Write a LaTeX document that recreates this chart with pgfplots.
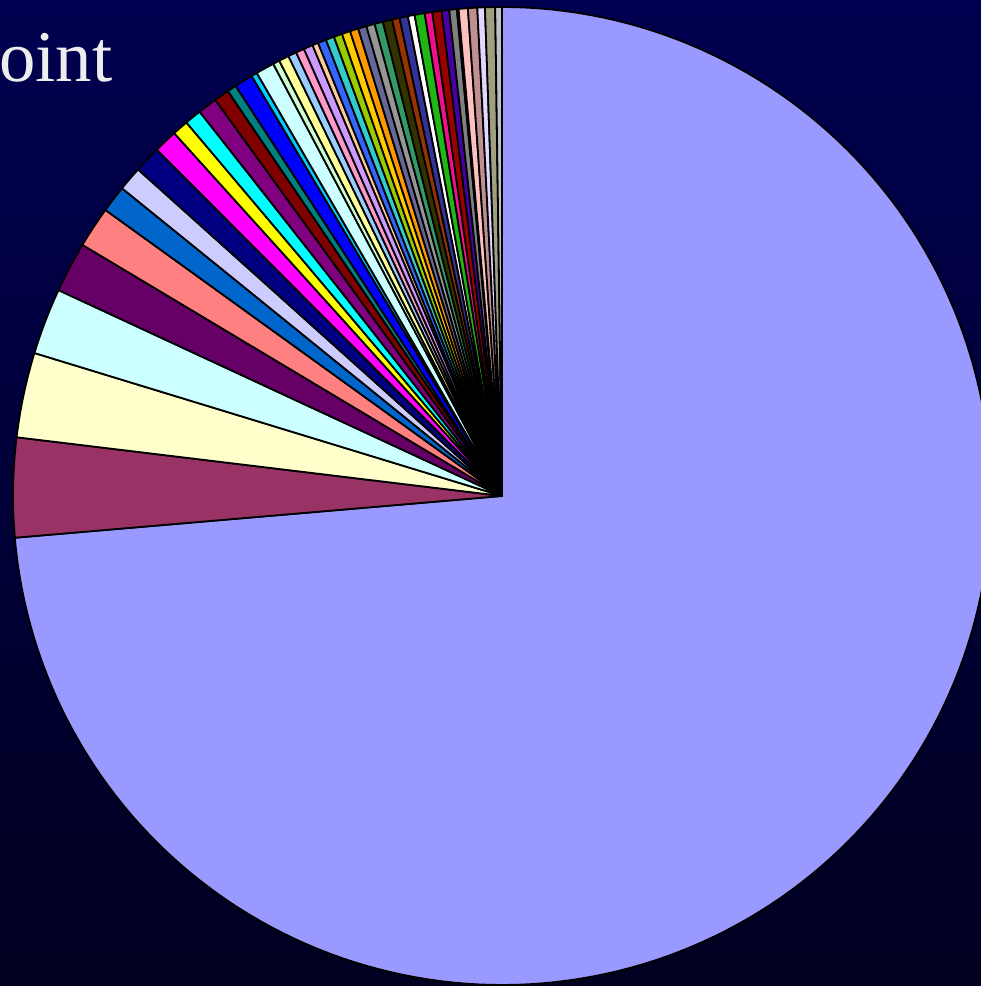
\documentclass[border=0pt]{standalone}
\usepackage{pgfplots}
\pgfplotsset{compat=1.18}
\usepackage{pgfplotstable}
\usepackage{fontspec}
\setmainfont{Liberation Serif}
\definecolor{c0}{HTML}{9999FF}
\definecolor{c1}{HTML}{993366}
\definecolor{c2}{HTML}{FFFFCC}
\definecolor{c3}{HTML}{CCFFFF}
\definecolor{c4}{HTML}{660066}
\definecolor{c5}{HTML}{FF8080}
\definecolor{c6}{HTML}{0066CC}
\definecolor{c7}{HTML}{CCCCFF}
\definecolor{c8}{HTML}{000080}
\definecolor{c9}{HTML}{FF00FF}
\definecolor{c10}{HTML}{FFFF00}
\definecolor{c11}{HTML}{00FFFF}
\definecolor{c12}{HTML}{800080}
\definecolor{c13}{HTML}{800000}
\definecolor{c14}{HTML}{008080}
\definecolor{c15}{HTML}{0000FF}
\definecolor{c16}{HTML}{00CCFF}
\definecolor{c17}{HTML}{CCFFFF}
\definecolor{c18}{HTML}{CCFFCC}
\definecolor{c19}{HTML}{FFFF99}
\definecolor{c20}{HTML}{99CCFF}
\definecolor{c21}{HTML}{FF99CC}
\definecolor{c22}{HTML}{CC99FF}
\definecolor{c23}{HTML}{FFCC99}
\definecolor{c24}{HTML}{3366FF}
\definecolor{c25}{HTML}{33CCCC}
\definecolor{c26}{HTML}{99CC00}
\definecolor{c27}{HTML}{FFCC00}
\definecolor{c28}{HTML}{FF9900}
\definecolor{c29}{HTML}{666699}
\definecolor{c30}{HTML}{969696}
\definecolor{c31}{HTML}{339966}
\definecolor{c32}{HTML}{333300}
\definecolor{c33}{HTML}{993300}
\definecolor{c34}{HTML}{333399}
\definecolor{c35}{HTML}{FFFFFF}
\definecolor{c36}{HTML}{1FB714}
\definecolor{c37}{HTML}{F0108A}
\definecolor{c38}{HTML}{990000}
\definecolor{c39}{HTML}{4600A5}
\definecolor{c40}{HTML}{808080}
\definecolor{c41}{HTML}{000000}
\definecolor{c42}{HTML}{FFC0C0}
\definecolor{c43}{HTML}{C09090}
\definecolor{c44}{HTML}{E0D8FF}
\definecolor{c45}{HTML}{A0A080}
\definecolor{c46}{HTML}{C0C0C0}
\definecolor{bgtop}{HTML}{000050}
\definecolor{bgmid}{HTML}{000058}
\definecolor{bgbot}{HTML}{000020}
\pgfplotstableread{
idx deg
0 265.1
1 11.8
2 10.1
3 7.9
4 6.0
5 4.9
6 3.2
7 2.9
8 3.2
9 2.8
10 1.9
11 2.0
12 2.3
13 1.8
14 1.1
15 2.2
16 0.7
17 2.2
18 0.8
19 1.2
20 1.0
21 1.0
22 1.1
23 0.7
24 1.0
25 1.0
26 1.0
27 1.0
28 1.0
29 1.0
30 1.0
31 1.0
32 1.1
33 0.9
34 1.0
35 0.8
36 1.2
37 0.9
38 1.1
39 0.9
40 0.9
41 0.2
42 1.1
43 1.1
44 0.9
45 1.2
46 0.8
}\pietable
\begin{document}
\begin{tikzpicture}[x=1bp,y=1bp]
\useasboundingbox (0,0) rectangle (981,986);
\shade[top color=bgtop, middle color=bgmid, bottom color=bgbot] (0,0) rectangle (981,986);
\begin{axis}[at={(0,0)}, anchor=south west, width=981bp, height=986bp,
  scale only axis, xmin=0, xmax=981, ymin=0, ymax=986, hide axis, clip=true]
\pgfmathsetmacro\start{90}
\pgfplotsforeachungrouped \i in {0,...,46}{%
  \pgfplotstablegetelem{\i}{deg}\of\pietable
  \pgfmathsetmacro\stop{\start-\pgfplotsretval}
  \pgfmathtruncatemacro\ns{max(3,ceil(\pgfplotsretval/1.5))+1}
  \edef\temp{\noexpand\addplot[draw=black, line width=1.8bp, line join=round, fill=c\i, domain=\start:\stop, samples=\ns, variable=\noexpand\t] ({502+489*cos(\noexpand\t)},{490+489*sin(\noexpand\t)}) -- (axis cs:502,490) -- cycle;}%
  \temp
  \let\start\stop
}
\end{axis}
\node[anchor=base west, inner sep=0pt, text=black!7] at (-1,904) {\fontsize{73}{80}\selectfont oint};
\end{tikzpicture}
\end{document}
